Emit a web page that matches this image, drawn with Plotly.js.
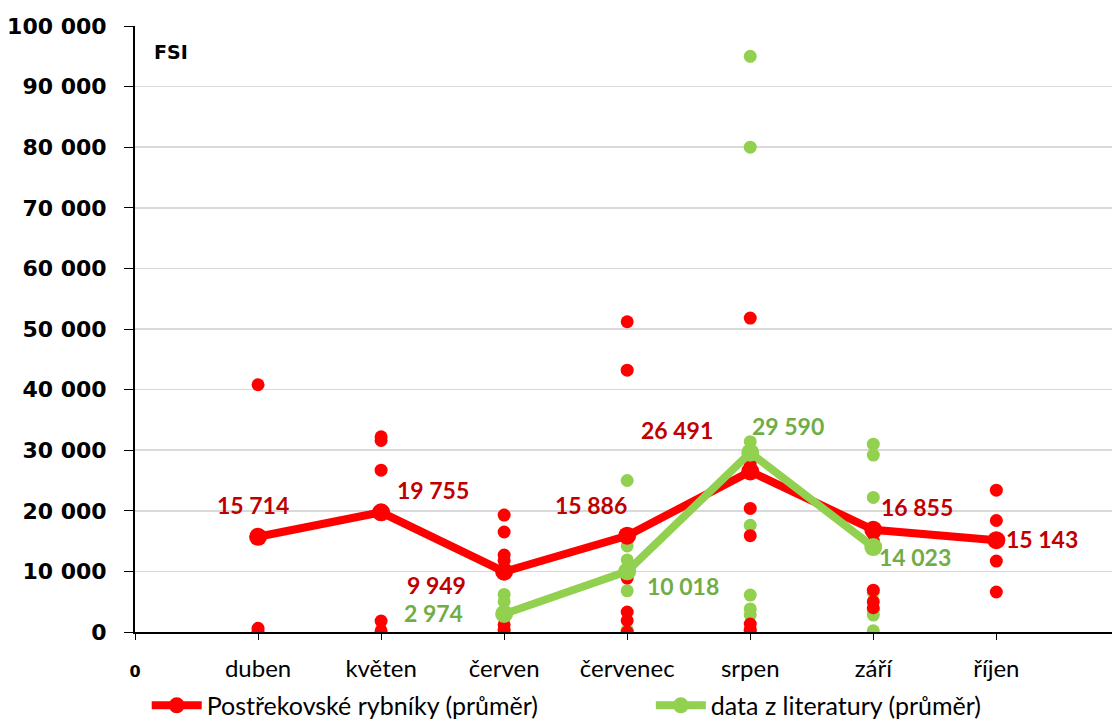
<!DOCTYPE html>
<html>
<head>
<meta charset="utf-8">
<script src="https://cdn.plot.ly/plotly-3.0.1.min.js"></script>
<style>html,body{margin:0;padding:0;background:#fff;}#chart{width:1112px;height:720px;}</style>
</head>
<body>
<div id="chart"></div>
<script>
// ---- data ----
var months = ["duben", "květen", "červen", "červenec", "srpen", "září", "říjen"];
var redName = "Postřekovské rybníky (průměr)";
var greenName = "data z literatury (průměr)";
var redMean = [15714, 19755, 9949, 15886, 26491, 16855, 15143];
var greenMean = [null, null, 2974, 10018, 29590, 14023, null];

// individual measurements per month (index matches months)
var redSamples = [
  [40800, 600, 0],
  [32200, 31600, 26700, 1800, 200],
  [19300, 16500, 12700, 11800, 10500, 3300, 1200, 400],
  [51200, 43200, 8900, 3300, 1900, 0],
  [51800, 27900, 20400, 15900, 1300, 300],
  [15000, 6900, 5000, 4000],
  [23400, 18400, 11700, 6600]
];
var greenSamples = [
  [],
  [],
  [6200, 5000, 3000, 200],
  [25000, 15600, 14200, 11900, 6800, 300],
  [95000, 80000, 31400, 17600, 6100, 3800, 2800, 300],
  [31000, 29200, 22200, 16300, 6500, 3600, 2800, 200],
  []
];
var yTicks = [0, 10000, 20000, 30000, 40000, 50000, 60000, 70000, 80000, 90000, 100000];

// ---- styling (label offsets in px) ----
var redLabelShift = [[-5, 32], [52, 22], [-68, -13], [-36, 31], [-73, 41], [44, 23], [46, 1]];
var greenLabelShift = [null, null, [-71, 1], [56, -15], [38, 27], [42, -10], null];
var RED = "#FF0000", RED_TXT = "#C00000", GREEN = "#92D050", GREEN_TXT = "#70AD47";

var xPos = months.map(function (m, i) { return i + 1; });

function flatten(samples) {
  var xs = [], ys = [];
  samples.forEach(function (arr, i) {
    arr.forEach(function (v) { xs.push(xPos[i]); ys.push(v); });
  });
  return {x: xs, y: ys};
}
var rs = flatten(redSamples), gs = flatten(greenSamples);

var traces = [
  {x: gs.x, y: gs.y, type: "scatter", mode: "markers", showlegend: false, hoverinfo: "y",
   marker: {color: GREEN, size: 13}},
  {x: rs.x, y: rs.y, type: "scatter", mode: "markers", showlegend: false, hoverinfo: "y",
   marker: {color: RED, size: 13}},
  {x: xPos, y: redMean, type: "scatter", mode: "lines+markers", name: redName, legend: "legend",
   line: {color: RED, width: 8}, marker: {color: RED, size: 18}},
  {x: xPos, y: greenMean, type: "scatter", mode: "lines+markers", name: greenName, legend: "legend2",
   line: {color: GREEN, width: 8}, marker: {color: GREEN, size: 18}}
];

function fmt(v) { return String(v).replace(/\B(?=(\d{3})+(?!\d))/g, " "); }

var annotations = [];
redMean.forEach(function (v, i) {
  if (v == null) return;
  annotations.push({x: xPos[i], y: v, xref: "x", yref: "y", text: "<b>" + fmt(v) + "</b>",
    showarrow: false, xshift: redLabelShift[i][0], yshift: redLabelShift[i][1],
    font: {family: "Lato, sans-serif", size: 23, color: RED_TXT}});
});
greenMean.forEach(function (v, i) {
  if (v == null) return;
  annotations.push({x: xPos[i], y: v, xref: "x", yref: "y", text: "<b>" + fmt(v) + "</b>",
    showarrow: false, xshift: greenLabelShift[i][0], yshift: greenLabelShift[i][1],
    font: {family: "Lato, sans-serif", size: 23, color: GREEN_TXT}});
});
annotations.push({x: 0.017, y: 0.957, xref: "paper", yref: "paper", xanchor: "left", yanchor: "middle",
  text: "<b>FSI</b>", showarrow: false, font: {family: "DejaVu Sans, sans-serif", size: 19, color: "#000"}});

var tickText = ['<b><span style="font-family:\'DejaVu Sans\';font-size:16px">0</span></b>'].concat(months);

var legendBase = {orientation: "h", yref: "container", y: 0.02, yanchor: "middle", xanchor: "left",
  font: {family: "Lato, sans-serif", size: 25, color: "#000"}, itemwidth: 50, bgcolor: "rgba(0,0,0,0)"};

var layout = {
  width: 1112, height: 720,
  margin: {l: 135, r: 0, t: 26, b: 88},
  paper_bgcolor: "#fff", plot_bgcolor: "#fff",
  separators: ", ",
  showlegend: true,
  legend: Object.assign({}, legendBase, {x: 0.012}),
  legend2: Object.assign({}, legendBase, {x: 0.528}),
  xaxis: {range: [0, 7.94], tickvals: [0].concat(xPos), ticktext: tickText, showgrid: false, zeroline: false,
    showline: true, linecolor: "#000", linewidth: 2, ticks: "outside", ticklen: 6, tickcolor: "#000",
    ticklabelstandoff: 8, automargin: false,
    tickfont: {family: "Lato, sans-serif", size: 24, color: "#000"}, fixedrange: true},
  yaxis: {range: [0, 100000], tickvals: yTicks, tickformat: ",d", showgrid: true, gridcolor: "#D9D9D9",
    gridwidth: 1.5, zeroline: false, showline: true, linecolor: "#000", linewidth: 2,
    ticks: "outside", ticklen: 9, tickcolor: "#000", ticklabelstandoff: 13, automargin: false,
    tickfont: {family: "DejaVu Sans, sans-serif", size: 22, color: "#000", weight: "bold"}, fixedrange: true},
  annotations: annotations,
  hovermode: "closest"
};

Plotly.newPlot("chart", traces, layout, {displayModeBar: false, staticPlot: true});
</script>
</body>
</html>
